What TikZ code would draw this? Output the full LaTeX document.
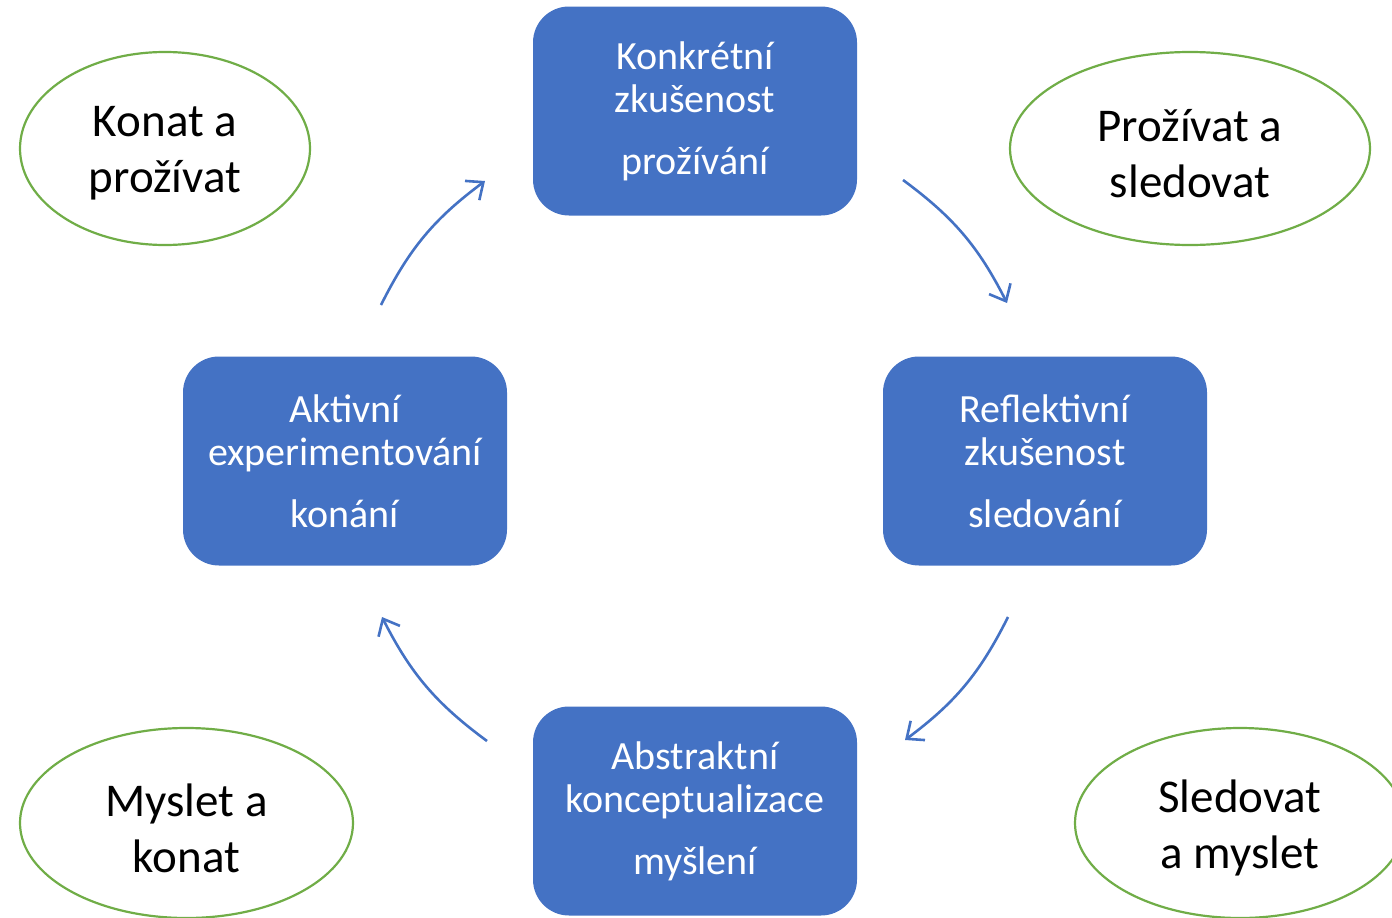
\documentclass[tikz,border=0pt]{standalone}
\usepackage{fontspec}
\setmainfont{Carlito}
\usetikzlibrary{shapes.geometric,arrows.meta}
\definecolor{boxblue}{HTML}{4472C4}
\definecolor{ellgreen}{HTML}{70AD47}
\tikzset{
  stagebox/.style={draw=none, fill=boxblue, rounded corners=36pt, minimum width=324pt, minimum height=209pt, inner sep=0pt, text=white, align=center, font=\fontsize{40}{43}\selectfont},
  modeell/.style={ellipse, draw=ellgreen, line width=2.2pt, fill=white, inner sep=0pt},
  elltext/.style={align=center, inner sep=0pt, yshift=-5pt, font=\fontsize{47}{56}\selectfont},
  cyclearrow/.style={draw=boxblue, line width=2.6pt, -{Straight Barb[length=14pt,width=24pt,line width=2.6pt]}}
}
\begin{document}
\begin{tikzpicture}[x=1pt,y=1pt]
\useasboundingbox (0,0) rectangle (1392,-918);
% ellipses
\node[modeell, minimum width=290pt, minimum height=193pt, label={[elltext]center:Konat a\\prožívat}] (e1) at (165,-148.5) {};
\node[modeell, minimum width=360pt, minimum height=193pt, label={[elltext]center:Prožívat a\\sledovat}] (e2) at (1190,-148.5) {};
\node[modeell, minimum width=333pt, minimum height=190pt, label={[elltext]center:Myslet a\\konat}] (e3) at (186.5,-823) {};
\node[modeell, minimum width=330pt, minimum height=190pt, label={[elltext]center:Sledovat\\a myslet}] (e4) at (1240,-823) {};
% boxes
\node[stagebox] (top) at (695,-111) {Konkrétní\\zkušenost\\[19pt]prožívání};
\node[stagebox] (right) at (1045,-461) {Reflektivní\\zkušenost\\[19pt]sledování};
\node[stagebox] (bottom) at (695,-811) {Abstraktní\\konceptualizace\\[19pt]myšlení};
\node[stagebox] (left) at (345,-461) {Aktivní\\experimentování\\[19pt]konání};
% arrow end points
\coordinate (a1s) at (903,-180);
\coordinate (a1e) at (1007,-303);
\coordinate (a2s) at (1008,-617);
\coordinate (a2e) at (905,-740);
\coordinate (a3s) at (487,-741);
\coordinate (a3e) at (382,-617);
\coordinate (a4s) at (381,-305);
\coordinate (a4e) at (485,-181);
\draw[cyclearrow] (a1s) to[bend left=13.4] (a1e);
\draw[cyclearrow] (a2s) to[bend left=13.4] (a2e);
\draw[cyclearrow] (a3s) to[bend left=13.4] (a3e);
\draw[cyclearrow] (a4s) to[bend left=13.4] (a4e);
\end{tikzpicture}
\end{document}
